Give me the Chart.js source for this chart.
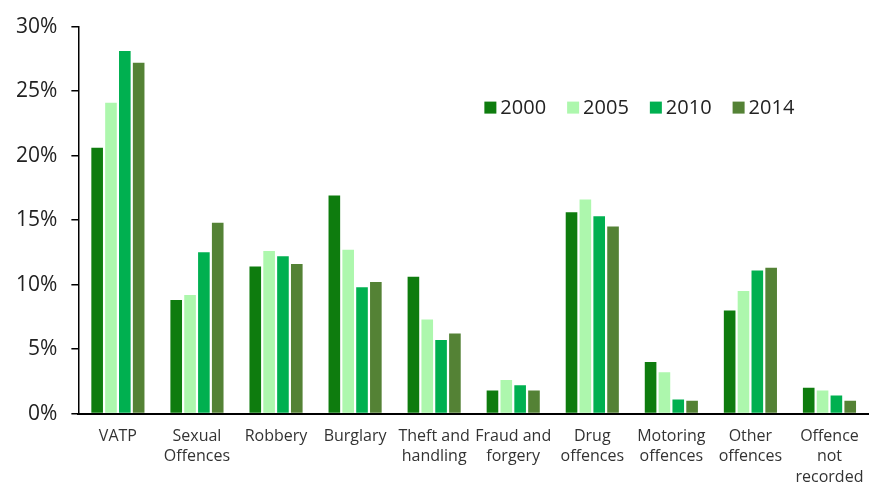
<!DOCTYPE html>
<html>
<head>
<meta charset="utf-8">
<script src="https://cdn.jsdelivr.net/npm/chart.js@4/dist/chart.umd.min.js"></script>
<style>
  html, body { margin: 0; padding: 0; background: #fff; overflow: hidden; }
  #wrap { width: 869px; height: 484px; }
</style>
</head>
<body>
<div id="wrap"><canvas id="chart"></canvas></div>
<script>
// -------- datos --------
const categories = [
  "VATP", ["Sexual", "Offences"], "Robbery", "Burglary", ["Theft and", "handling"],
  ["Fraud and", "forgery"], ["Drug", "offences"], ["Motoring", "offences"],
  ["Other", "offences"], ["Offence", "not", "recorded"]
];
const years = ["2000", "2005", "2010", "2014"];
const colors = ["#0e7c0e", "#adf7ad", "#00b050", "#548235"];

const s2000 = [20.6, 8.8, 11.4, 16.9, 10.6, 1.8, 15.6, 4.0, 8.0, 2.0];
const s2005 = [24.1, 9.2, 12.6, 12.7, 7.3, 2.6, 16.6, 3.2, 9.5, 1.8];
const s2010 = [28.1, 12.5, 12.2, 9.8, 5.7, 2.2, 15.3, 1.1, 11.1, 1.4];
const s2014 = [27.2, 14.8, 11.6, 10.2, 6.2, 1.8, 14.5, 1.0, 11.3, 1.0];

const yTicks = [0, 5, 10, 15, 20, 25, 30];

const FONT = "'Open Sans', 'Noto Sans', sans-serif";

// leyenda dentro del area
const innerLegend = {
  id: "innerLegend",
  afterDraw(chart) {
    const ctx = chart.ctx;
    const area = chart.chartArea;
    let x = area.left + 406;
    const y = area.top + 81;
    ctx.save();
    ctx.font = "20px " + FONT;
    ctx.textBaseline = "middle";
    chart.data.datasets.forEach(ds => {
      ctx.fillStyle = ds.backgroundColor;
      ctx.fillRect(x, y - 6, 12, 12);
      ctx.fillStyle = "#222";
      ctx.fillText(ds.label, x + 16, y + 1);
      x += 16 + ctx.measureText(ds.label).width + 21;
    });
    ctx.restore();
  }
};

const datasets = [s2000, s2005, s2010, s2014].map((d, i) => ({
  label: years[i],
  data: d,
  backgroundColor: colors[i],
  borderWidth: 0,
  categoryPercentage: 0.7,
  barPercentage: 0.84
}));

new Chart(document.getElementById("chart"), {
  type: "bar",
  data: { labels: categories, datasets },
  plugins: [innerLegend],
  options: {
    responsive: true,
    maintainAspectRatio: false,
    animation: false,
    layout: { padding: { top: 6, left: 2, right: 0, bottom: -8 } },
    plugins: { legend: { display: false }, tooltip: { enabled: false } },
    scales: {
      x: {
        grid: { display: false },
        border: { color: "#000", width: 2 },
        ticks: {
          color: "#333",
          font: { family: FONT, size: 16, lineHeight: 1.3 },
          maxRotation: 0,
          autoSkip: false,
          padding: 4
        }
      },
      y: {
        min: 0,
        max: 30,
        afterBuildTicks(axis) { axis.ticks = yTicks.map(v => ({ value: v })); },
        grid: { drawOnChartArea: false, tickLength: 7, color: "#000", lineWidth: 1.5 },
        border: { color: "#000", width: 1.5 },
        ticks: {
          color: "#222",
          font: { family: FONT, size: 21 },
          padding: 14,
          callback: v => v + "%"
        }
      }
    }
  }
});
</script>
</body>
</html>
